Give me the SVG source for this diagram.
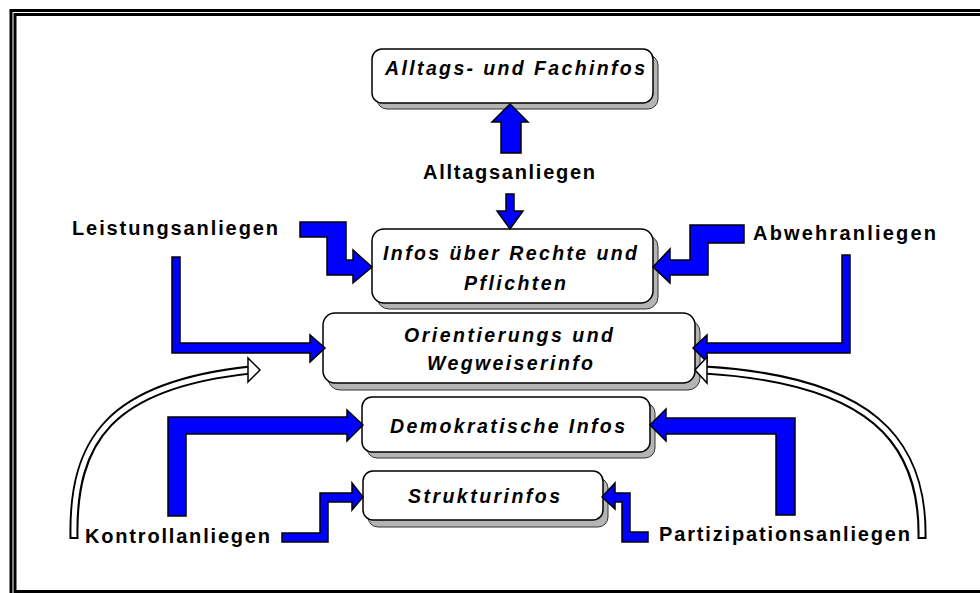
<svg xmlns="http://www.w3.org/2000/svg" width="980" height="593" viewBox="0 0 980 593">
<style>
.frame{fill:none;stroke:#000;stroke-width:3}
.box{fill:#fff;stroke:#000;stroke-width:1.5}
.shadow{fill:#b4b4b4;stroke:#333;stroke-width:1}
.bt{font-family:"Liberation Sans",Arial,sans-serif;font-weight:bold;font-style:italic;font-size:19.5px;fill:#000}
.lb{font-family:"Liberation Sans",Arial,sans-serif;font-weight:bold;font-size:20px;fill:#000}
.blue{fill:#0000ff;stroke:#000;stroke-width:1.5;stroke-linejoin:miter}
.bandO{fill:none;stroke:#000;stroke-width:9}
.bandI{fill:none;stroke:#fff;stroke-width:5}
.head{fill:#fff;stroke:#000;stroke-width:1.5}
</style>
<rect width="980" height="593" fill="#fff"/>
<rect class="frame" x="11" y="10.5" width="1000" height="586"/>
<rect class="frame" x="15" y="14.5" width="1000" height="577"/>

<g id="node-alltags-fachinfos">
<rect class="shadow" x="377" y="55" width="281" height="54" rx="10"/>
<rect class="box" x="372" y="49" width="281" height="54" rx="10"/>
<text class="bt" x="385" y="75" textLength="260" lengthAdjust="spacing">Alltags- und Fachinfos</text>
</g>
<g id="node-rechte-pflichten">
<rect class="shadow" x="377" y="235" width="281" height="74" rx="12"/>
<rect class="box" x="372" y="229" width="281" height="74" rx="12"/>
<text class="bt" x="383" y="260" textLength="254" lengthAdjust="spacing">Infos über Rechte und</text>
<text class="bt" x="464" y="290" textLength="102" lengthAdjust="spacing">Pflichten</text>
</g>
<g id="node-orientierung">
<rect class="shadow" x="328" y="320" width="372" height="70" rx="12"/>
<rect class="box" x="323" y="313" width="372" height="70" rx="12"/>
<text class="bt" x="404" y="342" textLength="209" lengthAdjust="spacing">Orientierungs und</text>
<text class="bt" x="427" y="370" textLength="166" lengthAdjust="spacing">Wegweiserinfo</text>
</g>
<g id="node-demokratische">
<rect class="shadow" x="367" y="403" width="288" height="55" rx="10"/>
<rect class="box" x="362" y="397" width="288" height="55" rx="10"/>
<text class="bt" x="390" y="433" textLength="235" lengthAdjust="spacing">Demokratische Infos</text>
</g>
<g id="node-struktur">
<rect class="shadow" x="368" y="478" width="240" height="49" rx="10"/>
<rect class="box" x="363" y="471" width="240" height="49" rx="10"/>
<text class="bt" x="408" y="503" textLength="152" lengthAdjust="spacing">Strukturinfos</text>
</g>

<g id="label-alltagsanliegen"><text class="lb" x="423" y="179" textLength="172" lengthAdjust="spacing">Alltagsanliegen</text></g>
<g id="label-leistungsanliegen"><text class="lb" x="72" y="235" textLength="206" lengthAdjust="spacing">Leistungsanliegen</text></g>
<g id="label-abwehranliegen"><text class="lb" x="753" y="240" textLength="183" lengthAdjust="spacing">Abwehranliegen</text></g>
<g id="label-kontrollanliegen"><text class="lb" x="85" y="543" textLength="185" lengthAdjust="spacing">Kontrollanliegen</text></g>
<g id="label-partizipationsanliegen"><text class="lb" x="659" y="541" textLength="251" lengthAdjust="spacing">Partizipationsanliegen</text></g>

<g id="connectors">
<polygon class="blue" points="501,153 501,122 492,122 510,104 528,122 521,122 521,153"/>
<polygon class="blue" points="506,194 514,194 514,211 523,211 510,229 497,211 506,211"/>
<polygon class="blue" points="300,222 346,222 346,260 353,260 353,250 372,267 353,283 353,275 327,275 327,237 300,237"/>
<polygon class="blue" points="172,257 180,257 180,343 310,343 310,335 325,348 310,362 310,353 172,353"/>
<polygon class="blue" points="744,225 744,243 708,243 708,275 670,275 670,283 653,267 670,249 670,260 690,260 690,225"/>
<polygon class="blue" points="850,255 842,255 842,343 707,343 707,335 693,348 707,362 707,353 850,353"/>
<polygon class="blue" points="168,516 168,417 347,417 347,410 363,425 347,441 347,434 186,434 186,516"/>
<polygon class="blue" points="282,533 320,533 320,493 352,493 352,483 363,497 352,510 352,502 328,502 328,542 282,542"/>
<polygon class="blue" points="795,515 795,418 666,418 666,409 650,425 666,441 666,434 776,434 776,515"/>
<polygon class="blue" points="615,493 630,493 630,532 648,532 648,542 622,542 622,502 615,502 615,509 602,497 615,483"/>
<path class="bandO" d="M74,539 C72,440 110,385 250,370"/>
<path class="bandI" d="M74,537 C72,440 110,385 251,370"/>
<polygon class="head" points="248,358 260,370 248,382 248,374 248,366"/>
<path class="bandO" d="M922,539 C924,440 870,380 705,370"/>
<path class="bandI" d="M922,537 C924,440 870,380 704,370"/>
<polygon class="head" points="707,357 695,370 707,383"/>
</g>
</svg>
